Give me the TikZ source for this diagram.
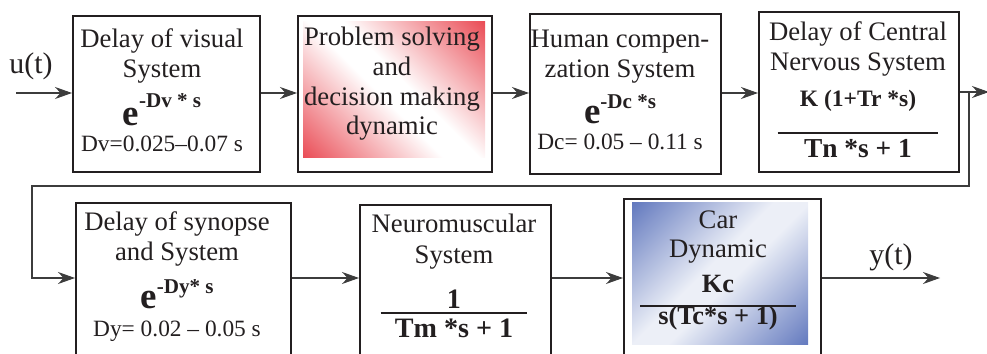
\documentclass[tikz,border=0pt]{standalone}
\usepackage{fontspec}
\setmainfont{Liberation Serif}
\usetikzlibrary{arrows.meta}
\definecolor{inkcolor}{RGB}{35,31,32}
\definecolor{linecolor}{RGB}{60,60,60}
\definecolor{problemred}{RGB}{232,62,72}
\definecolor{carblue}{RGB}{88,112,186}
\definecolor{carlight}{RGB}{236,239,247}
\pgfdeclareverticalshading{redband}{100bp}{color(0bp)=(problemred); color(12bp)=(problemred); color(46bp)=(white); color(54bp)=(white); color(88bp)=(problemred); color(100bp)=(problemred)}
\pgfdeclareverticalshading{blueband}{100bp}{color(0bp)=(carblue); color(12bp)=(carblue); color(46bp)=(carlight); color(54bp)=(carlight); color(88bp)=(carblue); color(100bp)=(carblue)}
\newcommand{\blockfont}{\fontsize{15.2}{17}\selectfont\lineskiplimit=-\maxdimen\relax}
\newcommand{\paramfont}{\fontsize{13.3}{17}\selectfont}
\newcommand{\boldsize}[1]{\fontsize{#1}{17}\selectfont\bfseries}
\newcommand{\eterm}[2][10pt]{{\fontsize{21}{21}\selectfont\bfseries e}\raisebox{#1}{\boldsize{12}#2}}
\newcommand{\fracrule}[1]{\rule{#1}{1.1pt}}
\tikzset{
block/.style={
  draw=inkcolor,
  line width=1.1pt,
  inner sep=0pt,
  anchor=north west
},
blocktext/.style={
  align=center,
  inner sep=0pt,
  anchor=base,
  text=inkcolor,
  font=\blockfont
},
signal/.style={
  inner sep=0pt,
  text=inkcolor,
  font=\fontsize{17}{17}\selectfont
},
arrow/.style={
  -{Stealth[length=3.4mm,width=2.4mm]},
  line width=0.6pt,
  draw=linecolor
}
}
\begin{document}
\begin{tikzpicture}[x=0.02cm,y=-0.02cm]
  \useasboundingbox (0,0) rectangle (987,354);
  \clip (0,0) rectangle (987,354);
  % shaded insets
  \shade[shading=redband, shading angle=-45] (303,22) rectangle (485,158);
  \shade[shading=blueband, shading angle=45] (632,203) rectangle (808,345);
  % first row
  \node[block, minimum width=3.74cm, minimum height=3.12cm] (visual) at (72,15) {};
  \node[block, minimum width=3.88cm, minimum height=3.12cm] (problem) at (297,15) {};
  \node[block, minimum width=3.82cm, minimum height=3.2cm] (compensation) at (529,13) {};
  \node[block, minimum width=4.0cm, minimum height=3.2cm] (nervous) at (758,11) {};
  % second row
  \node[block, minimum width=4.3cm, minimum height=3.2cm] (synapse) at (75,202) {};
  \node[block, minimum width=3.82cm, minimum height=3.2cm] (neuro) at (359,204) {};
  \node[block, minimum width=3.94cm, minimum height=3.2cm] (car) at (623,198) {};

  % texts sit on the baseline of their last line
  \node[blocktext] (visualtext) at (162,152) {Delay of visual\\System\\[10.2pt]\eterm[10pt]{-Dv * s}\\[-1.7pt]{\paramfont Dv=0.025–0.07 s}};
  \node[blocktext] (problemtext) at (392,135) {Problem solving\\and\\decision making\\dynamic};
  \node[blocktext] (compensationtext) at (620,150) {Human compen-\\zation System\\[9.1pt]\eterm[8.5pt]{-Dc *s}\\[-1.7pt]{\paramfont Dc= 0.05 – 0.11 s}};
  \node[blocktext] (nervoustext) at (858,158) {Delay of Central\\Nervous System\\[3.4pt]{\boldsize{13.4}K (1+Tr *s)}\\[-1.1pt]\fracrule{3.22cm}\\[-3.4pt]{\boldsize{15.6}Tn *s + 1}};
  \node[blocktext] (synapsetext) at (177,337) {Delay of synopse\\and System\\[10.2pt]\eterm[8.5pt]{-Dy* s}\\[-0.6pt]{\paramfont Dy= 0.02 – 0.05 s}};
  \node[blocktext] (neurotext) at (454,338) {Neuromuscular\\[0.6pt]System\\[8.5pt]{\boldsize{16}1}\\[-13.6pt]\fracrule{2.94cm}\\[-3.4pt]{\boldsize{16}Tm *s + 1}};
  \node[blocktext] (cartext) at (718,325) {Car\\[-0.6pt]Dynamic\\[2.8pt]{\boldsize{15}Kc}\\[-8.5pt]\fracrule{3.12cm}\\[-6.8pt]{\boldsize{15}s(Tc*s + 1)}};

  \node[signal] (ulabel) at (31,66) {u(t)};
  \node[signal] (ylabel) at (891,257) {y(t)};

  % connectors
  \coordinate (input) at (16,93);
  \coordinate (turn) at (969,92);
  \coordinate (outtip) at (989,92);
  \coordinate (back) at (32,186);
  \coordinate (row2) at (0,278);
  \coordinate (output) at (940,278);
  \draw[arrow] (input) -- (visual.west |- input);
  \draw[arrow] (visual.east |- input) -- (problem.west |- input);
  \draw[arrow] (problem.east |- input) -- (compensation.west |- input);
  \draw[arrow] (compensation.east |- input) -- (nervous.west |- input);
  \draw[arrow] (nervous.east |- turn) -- (outtip);
  \draw[arrow] (turn) |- (back) |- (synapse.west |- row2);
  \draw[arrow] (synapse.east |- row2) -- (neuro.west |- row2);
  \draw[arrow] (neuro.east |- row2) -- (car.west |- row2);
  \draw[arrow] (car.east |- row2) -- (output);
\end{tikzpicture}
\end{document}
